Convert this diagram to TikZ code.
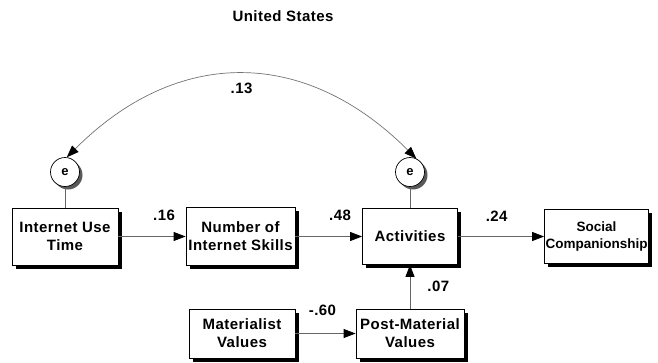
\documentclass[tikz,border=0pt]{standalone}
\usepackage{fontspec}
\setmainfont{Liberation Sans}[LetterSpace=3]
\usetikzlibrary{arrows.meta,shadows}

\begin{document}
\begin{tikzpicture}[x=1pt,y=-1pt,
  every node/.style={font=\bfseries\fontsize{15}{18}\selectfont},
  var/.style={draw=black, line width=0.8pt, fill=white, align=center, inner sep=1pt,
    drop shadow={shadow xshift=3.5pt, shadow yshift=-3.5pt, fill=black, opacity=1}},
  err/.style={circle, draw=black, line width=0.7pt, fill=white, minimum size=29pt, inner sep=0pt,
    font=\bfseries\fontsize{13}{13}\selectfont,
    drop shadow={shadow xshift=3pt, shadow yshift=-3pt, fill=black!65, opacity=1}},
  conn/.style={draw=black!60, line width=0.8pt, -{Triangle[length=12pt,width=9pt,color=black]}},
  coef/.style={inner sep=0pt},
  tie/.style={draw=black!60, line width=0.8pt}
]
\useasboundingbox (0,0) rectangle (658,362);

% title
\node (title) at (283,16) {United States};

% observed variables
\node[var, minimum width=106pt, minimum height=57pt] (iut) at (65,236.5) {Internet Use\\Time};
\node[var, minimum width=109pt, minimum height=58pt] (nis) at (240.5,236.5) {Number of\\Internet Skills};
\node[var, minimum width=95pt, minimum height=56pt] (act) at (410,236.5) {Activities};
\node[var, minimum width=101pt, minimum height=54pt, font=\bfseries\fontsize{13.5}{17}\selectfont\addfontfeature{LetterSpace=0}] (soc) at (596.5,236.5) {Social\\Companionship};
\node[var, minimum width=106pt, minimum height=49pt] (mat) at (242,333.5) {Materialist\\Values};
\node[var, minimum width=108pt, minimum height=49pt] (pmv) at (410,333.5) {Post-Material\\Values};

% error terms
\node[err] (e1) at (65,172) {e};
\node[err] (e2) at (410,172) {e};
\draw[tie] (e1.south) -- (iut.north);
\draw[tie] (e2.south) -- (act.north);

% correlated errors
\draw[draw=black!55, line width=0.7pt,
  {Triangle[length=12pt,width=9pt,color=black]}-{Triangle[length=12pt,width=9pt,color=black]}]
  (e1.83) .. controls +(111,-111) and +(-111,-111) .. (e2.65)
  node[coef, pos=0.5, below=8pt] {.13};

% paths
\draw[conn] (iut.east) -- (nis.west) node[coef, pos=0.68, above=15pt] {.16};
\draw[conn] (nis.east) -- (act.west) node[coef, pos=0.67, above=15pt] {.48};
\draw[conn] (act.east) -- (soc.west) node[coef, pos=0.45, above=15pt] {.24};
\draw[conn] (mat.east) -- (pmv.west) node[coef, pos=0.45, above=17pt] {-.60};
\draw[conn] (pmv.north) -- (act.south) node[coef, pos=0.5, right=17pt] {.07};
\end{tikzpicture}
\end{document}
